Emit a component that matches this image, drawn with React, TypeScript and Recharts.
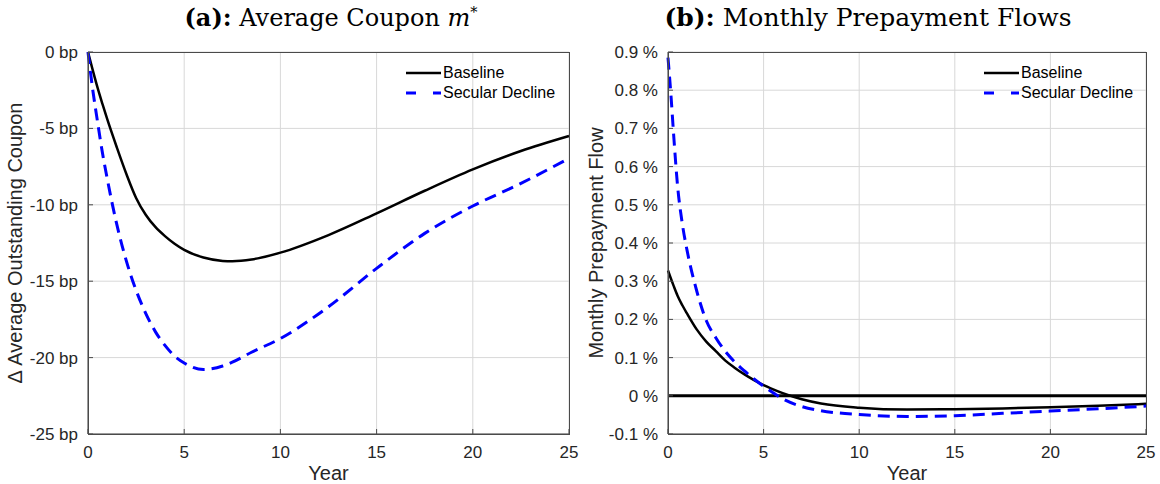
import React from 'react';
import { LineChart, Line, XAxis, YAxis, CartesianGrid, ReferenceLine } from 'recharts';

// panel (a): change in average outstanding coupon, bp
const couponYears = [0, 0.25, 0.5, 0.75, 1, 1.5, 2, 2.5, 3, 3.5, 4, 4.5, 5, 6, 7, 7.5, 8.5, 10, 12.5, 15, 17.5, 20, 22.5, 25];
const couponBaseline = [0, -1.2, -2.35, -3.4, -4.4, -6.25, -8.0, -9.55, -10.65, -11.45, -12.05, -12.55, -12.95, -13.45, -13.67, -13.69, -13.58, -13.13, -11.98, -10.56, -9.08, -7.68, -6.48, -5.5];
const couponSecular = [0, -2.5, -4.6, -6.6, -8.3, -11.3, -13.7, -15.6, -17.1, -18.3, -19.2, -19.9, -20.35, -20.78, -20.55, -20.3, -19.65, -18.75, -16.67, -14.16, -11.87, -10.08, -8.6, -6.96];

// panel (b): monthly prepayment flow, %
const flowYears = [0, 0.15, 0.3, 0.5, 0.75, 1, 1.5, 2, 2.5, 3, 3.5, 4, 4.5, 5, 5.5, 6, 7, 8, 10, 12.5, 15, 17.5, 20, 22.5, 25];
const flowBaseline = [0.328, 0.307, 0.287, 0.262, 0.237, 0.215, 0.174, 0.142, 0.117, 0.092, 0.073, 0.056, 0.041, 0.028, 0.017, 0.007, -0.009, -0.02, -0.031, -0.036, -0.035, -0.033, -0.03, -0.026, -0.021];
const flowSecular = [0.885, 0.79, 0.68, 0.55, 0.45, 0.38, 0.275, 0.197, 0.152, 0.116, 0.088, 0.065, 0.044, 0.025, 0.008, -0.008, -0.028, -0.039, -0.049, -0.054, -0.052, -0.046, -0.04, -0.034, -0.027];

const yearTicks = [0, 5, 10, 15, 20, 25];
const couponTicks = [-25, -20, -15, -10, -5, 0];
const flowTicks = [-0.1, 0, 0.1, 0.2, 0.3, 0.4, 0.5, 0.6, 0.7, 0.8, 0.9];

const seriesNames = ['Baseline', 'Secular Decline'];

const AXIS = '#4a4a4a';
const GRID = '#d8d8d8';
const SANS = '"Liberation Sans", Arial, sans-serif';

const couponData = couponYears.map((year, i) => ({
  year,
  baseline: couponBaseline[i],
  secular: couponSecular[i],
}));

const flowData = flowYears.map((year, i) => ({
  year,
  baseline: flowBaseline[i],
  secular: flowSecular[i],
}));

// plain html legend, same look as the matlab one
function LegendBox({ left }: { left: number }) {
  return (
    <div style={{ position: 'absolute', left, top: 63, fontFamily: SANS, fontSize: 16, color: '#000' }}>
      {seriesNames.map((name, i) => {
        const dashed = i === 1;
        return (
          <div key={name} style={{ display: 'flex', alignItems: 'center', height: 20 }}>
            <svg width={37} height={20} style={{ display: 'block' }}>
              <line
                x1={1}
                x2={36}
                y1={10}
                y2={10}
                stroke={dashed ? '#0000ff' : '#000'}
                strokeWidth={dashed ? 3 : 2.5}
                strokeDasharray={dashed ? '10 17' : undefined}
              />
            </svg>
            <span style={{ marginLeft: 1, lineHeight: '20px', whiteSpace: 'nowrap' }}>{name}</span>
          </div>
        );
      })}
    </div>
  );
}

// axes box frame (matlab "box on")
function Frame({ left, width }: { left: number; width: number }) {
  return (
    <div
      style={{
        position: 'absolute',
        left,
        top: 52,
        width,
        height: 383,
        boxSizing: 'border-box',
        border: `1px solid ${AXIS}`,
        pointerEvents: 'none',
      }}
    />
  );
}

function Panel({
  data,
  ticks,
  domain,
  fmt,
  right,
  zeroLine,
}: {
  data: { year: number; baseline: number; secular: number }[];
  ticks: number[];
  domain: [number, number];
  fmt: (v: number) => string;
  right: number;
  zeroLine?: boolean;
}) {
  return (
    <LineChart width={580} height={484} data={data} margin={{ top: 52, right, bottom: 0, left: 0 }}>
      <CartesianGrid stroke={GRID} />
      <XAxis
        dataKey="year"
        type="number"
        domain={[0, 25]}
        ticks={yearTicks}
        height={50}
        stroke={AXIS}
        tickSize={-5}
        tickMargin={17}
        tick={{ fill: '#262626', fontSize: 17, fontFamily: SANS }}
        label={{ value: 'Year', position: 'insideBottom', offset: 4, fill: '#262626', fontSize: 20, fontFamily: SANS }}
      />
      <YAxis
        domain={domain}
        ticks={ticks}
        width={88}
        stroke={AXIS}
        tickSize={-5}
        tickMargin={15}
        tickFormatter={fmt}
        tick={{ fill: '#262626', fontSize: 17, fontFamily: SANS }}
      />
      {zeroLine && <ReferenceLine y={0} stroke="#000" strokeWidth={3} />}
      <Line
        type="monotone"
        dataKey="baseline"
        name={seriesNames[0]}
        stroke="#000000"
        strokeWidth={2.5}
        dot={false}
        activeDot={false}
        isAnimationActive={false}
      />
      <Line
        type="monotone"
        dataKey="secular"
        name={seriesNames[1]}
        stroke="#0000ff"
        strokeWidth={3}
        strokeDasharray="12 7"
        dot={false}
        activeDot={false}
        isAnimationActive={false}
      />
    </LineChart>
  );
}

const titleStyle: React.CSSProperties = {
  position: 'absolute',
  top: 2,
  width: 600,
  textAlign: 'center',
  fontFamily: '"DejaVu Serif", "Liberation Serif", serif',
  fontSize: 25,
  lineHeight: '32px',
  color: '#000',
  whiteSpace: 'nowrap',
};

const ylabelStyle: React.CSSProperties = {
  position: 'absolute',
  top: 243,
  transform: 'translate(-50%, -50%) rotate(-90deg)',
  fontFamily: SANS,
  fontSize: 20,
  color: '#262626',
  whiteSpace: 'nowrap',
};

export default function App() {
  return (
    <div style={{ position: 'absolute', left: 0, top: 0, width: 1160, height: 484, background: '#fff', overflow: 'hidden' }}>
      <div style={{ position: 'absolute', left: 0, top: 0 }}>
        <Panel data={couponData} ticks={couponTicks} domain={[-25, 0]} fmt={(v) => `${v} bp`} right={11} />
      </div>
      <div style={{ position: 'absolute', left: 580, top: 0 }}>
        <Panel data={flowData} ticks={flowTicks} domain={[-0.1, 0.9]} fmt={(v) => `${v} %`} right={14} zeroLine />
      </div>
      <Frame left={88} width={482} />
      <Frame left={668} width={479} />
      <LegendBox left={405} />
      <LegendBox left={983} />
      <div style={{ ...titleStyle, left: 331 - 300, fontSize: 24 }}>
        <b>(a):</b> Average Coupon <i>m</i>
        <sup style={{ fontSize: '0.6em', lineHeight: 0 }}>*</sup>
      </div>
      <div style={{ ...titleStyle, left: 868 - 300 }}>
        <b>(b):</b> Monthly Prepayment Flows
      </div>
      <div style={{ ...ylabelStyle, left: 15 }}>Δ Average Outstanding Coupon</div>
      <div style={{ ...ylabelStyle, left: 596 }}>Monthly Prepayment Flow</div>
    </div>
  );
}
